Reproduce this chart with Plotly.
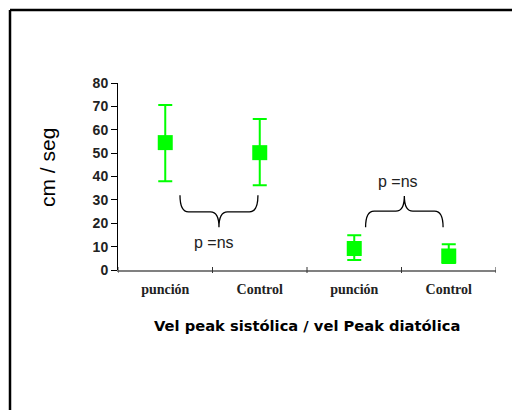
import plotly.graph_objects as go

# ---- data ----
categories = ["punción", "Control", "punción", "Control"]
means = [54.5, 50.2, 9.2, 6.0]
upper = [70.6, 64.6, 14.9, 11.0]
lower = [38.0, 36.3, 4.3, 3.0]
y_ticks = [0, 10, 20, 30, 40, 50, 60, 70, 80]
p_labels = ["p =ns", "p =ns"]
x_title = "Vel peak sistólica / vel Peak diatólica"
y_title = "cm / seg"

OFF = 0  # body margin removed by post_script
W, H = 512, 410
ML, MR, MT = 118, 16, 83
PH = 187
MB = H - MT - PH
PW = W - ML - MR

xpos = [i + 0.5 for i in range(len(categories))]
err_plus = [u - m for u, m in zip(upper, means)]
err_minus = [m - l for m, l in zip(means, lower)]

GREEN = "#00FF00"

fig = go.Figure()
fig.add_trace(go.Scatter(
    x=xpos, y=means, mode="markers",
    marker=dict(symbol="square", size=15, color=GREEN, line=dict(width=0)),
    error_y=dict(type="data", symmetric=False, array=err_plus, arrayminus=err_minus,
                 color=GREEN, thickness=2, width=7),
    showlegend=False, cliponaxis=False,
))

# page pixel -> paper coordinates
def px2px(px):
    return (px - OFF - ML) / PW

def py2py(py):
    return (MT + PH - (py - OFF)) / PH

shapes = []
# outer frame (top and left lines)
shapes.append(dict(type="line", xref="paper", yref="paper",
                   x0=px2px(10), x1=px2px(512), y0=py2py(10), y1=py2py(10),
                   line=dict(color="black", width=2.5)))
shapes.append(dict(type="line", xref="paper", yref="paper",
                   x0=px2px(10), x1=px2px(10), y0=py2py(10), y1=py2py(410),
                   line=dict(color="black", width=2.5)))
# category boundary tick marks crossing the x axis
for i in range(len(categories) + 1):
    shapes.append(dict(type="line", xref="x", yref="paper", x0=i, x1=i,
                       y0=-3 / PH, y1=3 / PH, line=dict(color="#333333", width=1)))

def brace(x0, x1, y_end, y_mid, y_tip):
    xm = (x0 + x1) / 2
    dx = 0.09
    return (f"M {x0},{y_end} Q {x0},{y_mid} {x0+dx},{y_mid} L {xm-dx},{y_mid} "
            f"Q {xm},{y_mid} {xm},{y_tip} M {xm},{y_tip} Q {xm},{y_mid} {xm+dx},{y_mid} "
            f"L {x1-dx},{y_mid} Q {x1},{y_mid} {x1},{y_end}")

shapes.append(dict(type="path", xref="x", yref="y",
                   path=brace(0.656, 1.481, 32.0, 24.9, 18.3),
                   line=dict(color="black", width=1.3)))
shapes.append(dict(type="path", xref="x", yref="y",
                   path=brace(2.62, 3.44, 18.3, 25.2, 31.7),
                   line=dict(color="black", width=1.3)))

annotations = [
    dict(x=1.016, y=11.9, xref="x", yref="y", text=p_labels[0], showarrow=False,
         font=dict(family="Arial, Liberation Sans", size=16, color="#222222")),
    dict(x=2.963, y=38.0, xref="x", yref="y", text=p_labels[1], showarrow=False,
         font=dict(family="Arial, Liberation Sans", size=16, color="#222222")),
    dict(x=0.5, y=py2py(325), xref="paper", yref="paper", text=x_title,
         showarrow=False, xanchor="center", yanchor="middle",
         font=dict(family="Comic Sans MS, DejaVu Sans", size=14.7, color="black",
                   weight="bold")),
    dict(x=px2px(47), y=py2py(168), xref="paper", yref="paper", text=y_title,
         showarrow=False, textangle=-90, xanchor="center", yanchor="middle",
         font=dict(family="Arial, Liberation Sans", size=21, color="black")),
]

fig.update_layout(
    width=W, height=H,
    margin=dict(l=ML, r=MR, t=MT, b=MB),
    paper_bgcolor="white", plot_bgcolor="white",
    shapes=shapes, annotations=annotations,
    xaxis=dict(range=[0, len(categories)], tickvals=xpos, ticktext=categories,
               ticks="outside", ticklen=5, tickcolor="rgba(0,0,0,0)",
               showgrid=False, zeroline=False, showline=True,
               linecolor="#808080", linewidth=2,
               tickfont=dict(family="Times New Roman, Liberation Serif", size=14,
                             color="#222222", weight="bold")),
    yaxis=dict(range=[0, 80], tickvals=y_ticks, ticks="outside", ticklen=6,
               tickcolor="black", showgrid=False, zeroline=False, showline=True,
               linecolor="black", linewidth=1,
               tickfont=dict(family="Arial, Liberation Sans", size=14, color="#222222",
                             weight="bold")),
)

fig.write_html("out.html", config={"displayModeBar": False},
               post_script="document.body.style.margin='0';"
                           "document.body.style.overflow='hidden';")
